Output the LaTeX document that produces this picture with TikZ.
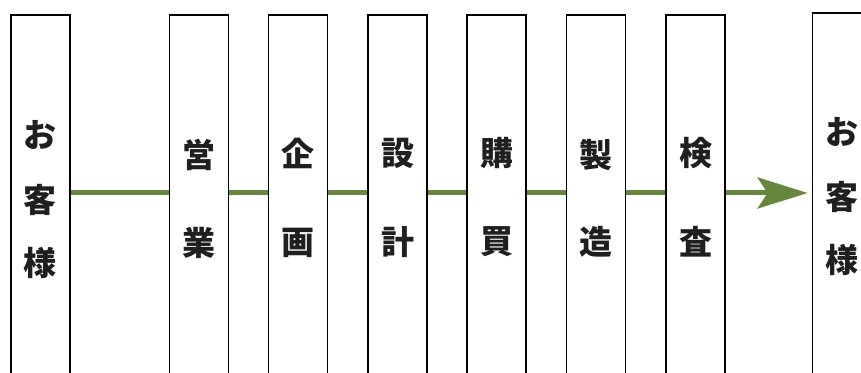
\documentclass[tikz,border=0pt]{standalone}
\usepackage{fontspec}
\newfontfamily\jp{Noto Sans CJK JP}
\usetikzlibrary{arrows.meta}
\pgfdeclarelayer{bg}
\pgfsetlayers{bg,main}
\definecolor{arrowgreen}{RGB}{102,136,62}
\tikzset{
  stepbox/.style={draw=black,line width=1.8pt,fill=white,minimum width=59pt,minimum height=390pt,inner sep=0pt,anchor=north},
  lbl/.style={font=\jp\bfseries\fontsize{33}{33}\selectfont,text=black!88,inner sep=0pt},
  flow/.style={draw=arrowgreen,line width=5pt,-{Stealth[length=50pt,width=31pt,inset=10pt,fill=arrowgreen]}}
}
\begin{document}
\begin{tikzpicture}[x=1pt,y=1pt]
\useasboundingbox (0,0) rectangle (861,372);
\clip (0,0) rectangle (861,372);
\node[stepbox] (b1) at (40.5,358) {};
\node[stepbox] (b2) at (199,358) {};
\node[stepbox] (b3) at (298,358) {};
\node[stepbox] (b4) at (397.5,358) {};
\node[stepbox] (b5) at (496.5,358) {};
\node[stepbox] (b6) at (596,358) {};
\node[stepbox] (b7) at (695.5,358) {};
\node[stepbox] (b8) at (842,360) {};
\coordinate (start) at (b1.east |- 0,179);
\coordinate (end) at (b8.west |- 0,179);
\begin{pgfonlayer}{bg}
\fill[white] (0,0) rectangle (861,372);
\draw[flow,shorten >=4pt] (start) -- (end);
\end{pgfonlayer}
% labels
\node[lbl] (t1a) at (40,237) {お};
\node[lbl] (t1b) at (40,172) {客};
\node[lbl] (t1c) at (40,109) {様};
\node[lbl] (t2a) at (199,217) {営};
\node[lbl] (t2b) at (199,129) {業};
\node[lbl] (t3a) at (298,219) {企};
\node[lbl] (t3b) at (298,129) {画};
\node[lbl] (t4a) at (397.5,219) {設};
\node[lbl] (t4b) at (397.5,130) {計};
\node[lbl] (t5a) at (496.5,219) {購};
\node[lbl] (t5b) at (496.5,130) {買};
\node[lbl] (t6a) at (596,217) {製};
\node[lbl] (t6b) at (596,130) {造};
\node[lbl] (t7a) at (695.5,219) {検};
\node[lbl] (t7b) at (695.5,130) {査};
\node[lbl] (t8a) at (842,240) {お};
\node[lbl] (t8b) at (842,175) {客};
\node[lbl] (t8c) at (842,112) {様};
\end{tikzpicture}
\end{document}
